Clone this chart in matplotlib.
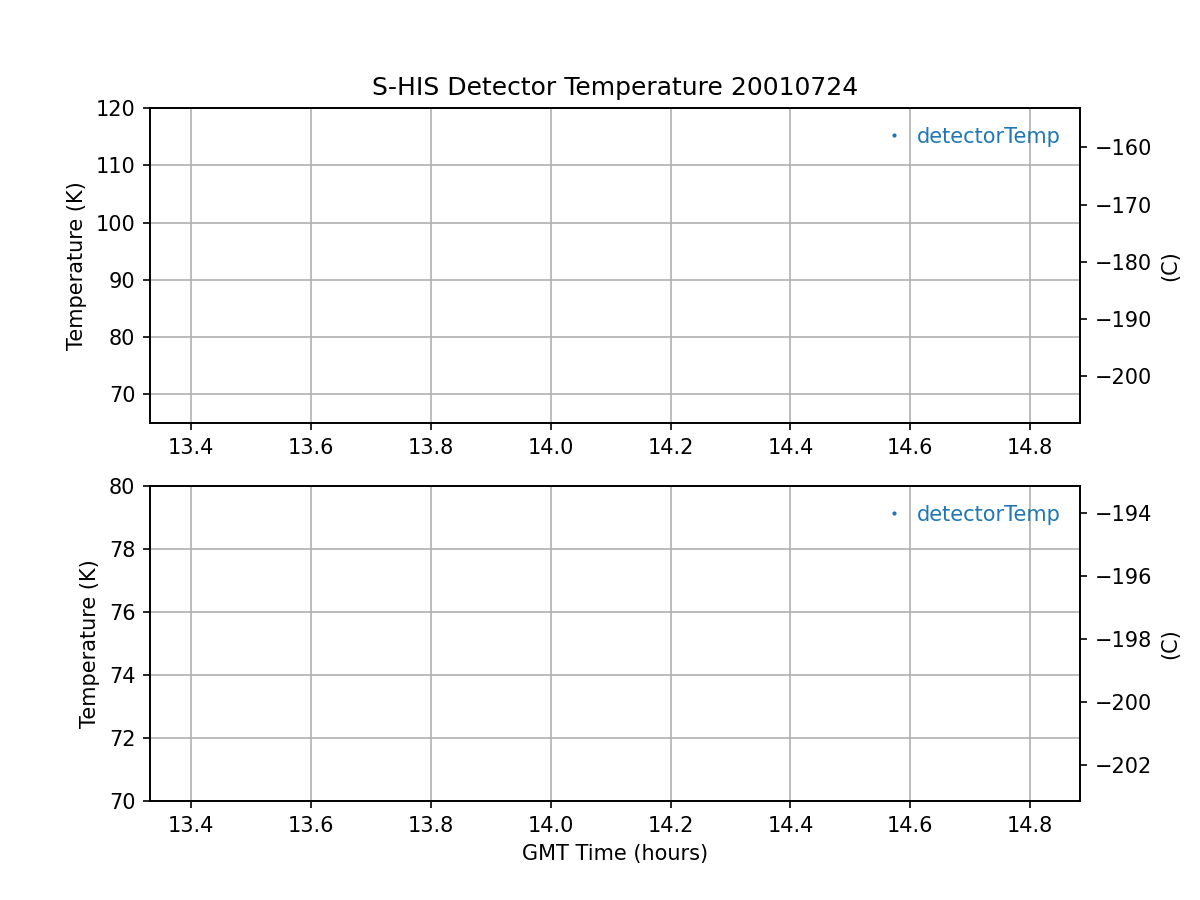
import matplotlib
matplotlib.use("Agg")
import matplotlib.pyplot as plt

# No samples in this window: the detector series is empty
gmt_hours = []
detector_temp_k = []

X_LIMITS = (13.3316, 14.883)
TOP_K_LIMITS = (65, 120)
BOTTOM_K_LIMITS = (70, 80)
X_TICKS = [13.4, 13.6, 13.8, 14.0, 14.2, 14.4, 14.6, 14.8]
TOP_TICKS = [70, 80, 90, 100, 110, 120]
BOTTOM_TICKS = [70, 72, 74, 76, 78, 80]
TOP_C_TICKS = [-160, -170, -180, -190, -200]
BOTTOM_C_TICKS = [-194, -196, -198, -200, -202]
K_TO_C = 273.15


def temp_panel(ax, ylim, yticks, cticks):
    ax.plot(gmt_hours, detector_temp_k, '.', ms=2, color='#1f77b4',
            label='detectorTemp')
    ax.set_xlim(*X_LIMITS)
    ax.set_xticks(X_TICKS)
    ax.set_ylim(*ylim)
    ax.set_yticks(yticks)
    ax.set_ylabel('Temperature (K)')
    ax.grid(True)
    ax.legend(loc='upper right', frameon=False, labelcolor='linecolor',
              handlelength=0.6)
    ax2 = ax.twinx()
    ax2.set_ylim(ylim[0] - K_TO_C, ylim[1] - K_TO_C)
    ax2.set_yticks(cticks)
    ax2.set_ylabel('(C)')
    return ax2


fig, (ax1, ax2) = plt.subplots(2, 1, figsize=(8, 6), dpi=150)
temp_panel(ax1, TOP_K_LIMITS, TOP_TICKS, TOP_C_TICKS)
temp_panel(ax2, BOTTOM_K_LIMITS, BOTTOM_TICKS, BOTTOM_C_TICKS)
ax1.set_title('S-HIS Detector Temperature 20010724')
ax2.set_xlabel('GMT Time (hours)')

fig.savefig('out.png', dpi=150)
